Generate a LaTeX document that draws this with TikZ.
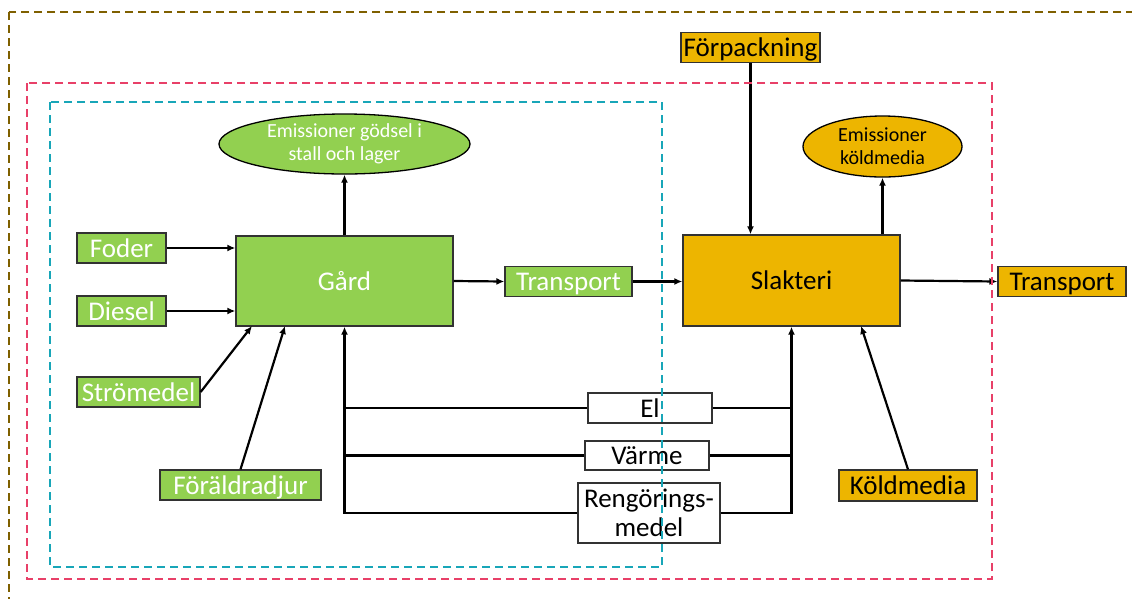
\documentclass[tikz,border=0pt]{standalone}
\usepackage{fontspec}
\setmainfont{Carlito}
\usetikzlibrary{shapes.geometric,arrows.meta}
\definecolor{lgreen}{RGB}{146,208,80}
\definecolor{goldc}{RGB}{237,181,0}
\definecolor{brownd}{RGB}{127,96,0}
\definecolor{redd}{RGB}{232,64,104}
\definecolor{teald}{RGB}{24,166,184}
\definecolor{edgec}{RGB}{50,50,50}
\begin{document}
\begin{tikzpicture}[x=1pt,y=-1pt,
 box/.style={draw=edgec,line width=1.3pt,inner sep=0pt,align=center,font=\fontsize{27}{30}\selectfont},
 one/.style={text height=20pt,text depth=2pt},
 gbox/.style={box,one,fill=lgreen,text=white},
 obox/.style={box,one,fill=goldc,text=black},
 wbox/.style={box,fill=white,text=black},
 emis/.style={ellipse,draw=black,line width=1.3pt,inner sep=0pt,align=center,font=\fontsize{20}{23}\selectfont},
 arr/.style={line width=2.2pt,-{Latex[length=8pt,width=7pt]}},
 ln/.style={line width=2.2pt},
 bound/.style={line width=2pt,dash pattern=on 8pt off 5pt}]
\useasboundingbox (0,0) rectangle (1132,598);
\fill[white] (0,0) rectangle (1132,598);
% nodes
\node[gbox,minimum width=89pt,minimum height=30pt] (foder) at (121.5,248) {Foder};
\node[gbox,minimum width=89pt,minimum height=30pt] (diesel) at (121.5,311) {Diesel};
\node[gbox,minimum width=123pt,minimum height=30pt] (strom) at (138.5,392) {Strömedel};
\node[gbox,minimum width=161pt,minimum height=30pt] (foral) at (240.5,485) {Föräldradjur};
\node[gbox,minimum width=217pt,minimum height=90pt] (gard) at (344.5,281) {Gård};
\node[emis,fill=lgreen,text=white,minimum width=251pt,minimum height=60pt] (emg) at (344.5,144) {Emissioner gödsel i\\stall och lager};
\node[gbox,minimum width=127pt,minimum height=30pt] (tr1) at (568.5,281.5) {Transport};
\node[obox,minimum width=217pt,minimum height=91pt] (slak) at (791.5,280.5) {Slakteri};
\node[obox,minimum width=139pt,minimum height=30pt] (forp) at (750.5,47.5) {Förpackning};
\node[emis,fill=goldc,text=black,minimum width=159pt,minimum height=61pt] (emk) at (882.5,146.5) {Emissioner\\köldmedia};
\node[obox,minimum width=128pt,minimum height=30pt] (tr2) at (1062,281.5) {Transport};
\node[obox,minimum width=138pt,minimum height=31pt] (kold) at (908,485.5) {Köldmedia};
\node[wbox,one,minimum width=124pt,minimum height=30pt] (el) at (650,408) {El};
\node[wbox,one,minimum width=124pt,minimum height=29pt] (varme) at (647,455.5) {Värme};
\node[wbox,minimum width=142pt,minimum height=60pt,font=\fontsize{27}{29}\selectfont] (reng) at (649,513) {Rengörings-\\medel};
\coordinate (g1) at (252,326);
\coordinate (g2) at (285,326);
\coordinate (s1) at (861,326);
% connectors
\draw[arr] (foder.east) -- (foder.east -| gard.west);
\draw[arr] (diesel.east) -- (diesel.east -| gard.west);
\draw[arr] (strom.east) -- (g1);
\draw[arr] (foral.north) -- (g2);
\draw[arr] (gard.north) -- (emg.south);
\draw[arr] (gard.east) -- (tr1.west);
\draw[arr] (tr1.east) -- (tr1.east -| slak.west);
\draw[arr] (forp.south) -- (forp.south |- slak.north);
\draw[arr] (slak.north -| emk.south) -- (emk.south);
\draw[arr] (slak.east) -- (tr2.west);
\draw[arr] (kold.north) -- (s1);
\draw[ln] (el.west) -- (el.west -| gard.south);
\draw[ln] (varme.west) -- (varme.west -| gard.south);
\draw[arr] (reng.west) -| (gard.south);
\draw[ln] (el.east) -- (el.east -| slak.south);
\draw[ln] (varme.east) -- (varme.east -| slak.south);
\draw[arr] (reng.east) -| (slak.south);
% boundaries
\draw[bound,draw=brownd] (9,12) rectangle (1145,615);
\draw[bound,draw=redd] (27,83) rectangle (992,579);
\draw[bound,draw=teald] (50,102) rectangle (662,567);
\end{tikzpicture}
\end{document}
